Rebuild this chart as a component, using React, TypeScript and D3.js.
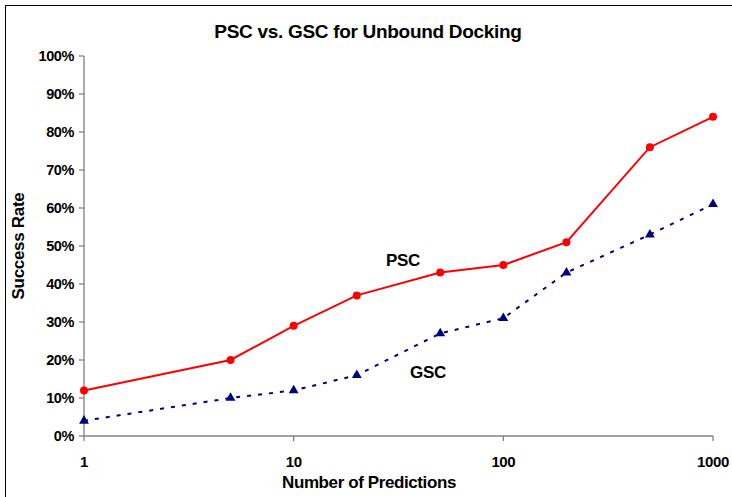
import React from "react";
import * as d3 from "d3";

const predictions = [1, 5, 10, 20, 50, 100, 200, 500, 1000];
const pscValues = [0.12, 0.2, 0.29, 0.37, 0.43, 0.45, 0.51, 0.76, 0.84];
const gscValues = [0.04, 0.1, 0.12, 0.16, 0.27, 0.31, 0.43, 0.53, 0.61];
const xTicks = [1, 10, 100, 1000];
const yTicks = [0, 0.1, 0.2, 0.3, 0.4, 0.5, 0.6, 0.7, 0.8, 0.9, 1.0];

const W = 732;
const H = 497;
const FONT = "'Liberation Sans', Arial, Helvetica, sans-serif";

export default function App() {
  const x = d3.scaleLog().domain([1, 1000]).range([84, 713]);
  const y = d3.scaleLinear().domain([0, 1]).range([436, 56]);
  const line = d3
    .line<number>()
    .x((_, i) => x(predictions[i]))
    .y((d) => y(d));
  const tri = d3.symbol().type(d3.symbolTriangle).size(42)();
  const fmt = d3.format(".0%");
  const axisColor = "#808080";

  return (
    <svg
      width={W}
      height={H}
      style={{ position: "fixed", left: 0, top: 0, background: "#fff" }}
      fontFamily={FONT}
    >
      <rect x={5.5} y={5.5} width={740} height={510} fill="#fff" stroke="#000" strokeWidth={1} />
      <text x={368} y={38} textAnchor="middle" fontSize={19} fontWeight="bold" letterSpacing={-0.3}>
        PSC vs. GSC for Unbound Docking
      </text>

      {/* y axis */}
      <line x1={x(1)} x2={x(1)} y1={y(0)} y2={y(1)} stroke={axisColor} strokeWidth={1.3} />
      {yTicks.map((t) => (
        <g key={t}>
          <line x1={x(1) - 5} x2={x(1)} y1={y(t)} y2={y(t)} stroke={axisColor} strokeWidth={1.3} />
          <text x={x(1) - 10} y={y(t)} dy="0.35em" textAnchor="end" fontSize={14.5} fontWeight="bold" letterSpacing={-0.4}>
            {fmt(t)}
          </text>
        </g>
      ))}
      {/* x axis */}
      <line x1={x(1)} x2={x(1000)} y1={y(0)} y2={y(0)} stroke={axisColor} strokeWidth={1.3} />
      {xTicks.map((t) => (
        <g key={t}>
          <line x1={x(t)} x2={x(t)} y1={y(0)} y2={y(0) + 5} stroke={axisColor} strokeWidth={1.3} />
          <text x={x(t)} y={y(0) + 31} textAnchor="middle" fontSize={15} fontWeight="bold" letterSpacing={-0.4}>
            {t}
          </text>
        </g>
      ))}
      <text x={369} y={488} textAnchor="middle" fontSize={17} fontWeight="bold" letterSpacing={-0.4}>
        Number of Predictions
      </text>
      <text
        transform={`translate(24,${y(0.5)}) rotate(-90)`}
        textAnchor="middle"
        fontSize={17}
        fontWeight="bold"
        letterSpacing={-0.3}
      >
        Success Rate
      </text>

      {/* GSC */}
      <path d={line(gscValues) || ""} fill="none" stroke="#000080" strokeWidth={2} strokeDasharray="4,7" />
      {gscValues.map((v, i) => (
        <path key={i} d={tri || ""} transform={`translate(${x(predictions[i])},${y(v)})`} fill="#000080" />
      ))}
      {/* PSC */}
      <path d={line(pscValues) || ""} fill="none" stroke="#ff0000" strokeWidth={2} />
      {pscValues.map((v, i) => (
        <circle key={i} cx={x(predictions[i])} cy={y(v)} r={4} fill="#ff0000" />
      ))}

      <text x={403} y={266} textAnchor="middle" fontSize={17} fontWeight="bold" letterSpacing={-0.3}>
        PSC
      </text>
      <text x={428} y={378} textAnchor="middle" fontSize={17} fontWeight="bold" letterSpacing={-0.3}>
        GSC
      </text>
    </svg>
  );
}
